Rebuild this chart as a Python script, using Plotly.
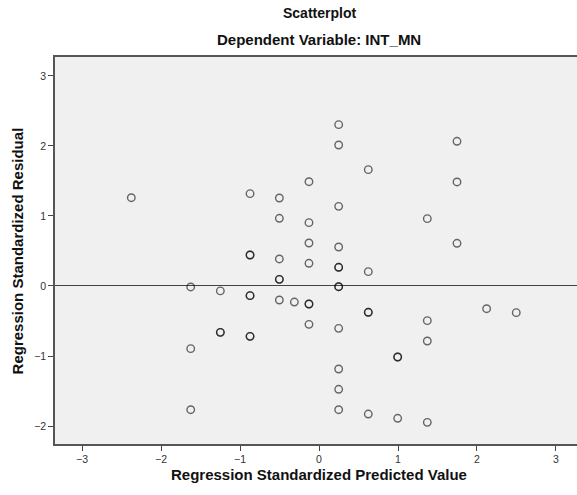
import plotly.graph_objects as go

# Regression residual scatter: standardized predicted value vs standardized residual
pred_levels = [-2.376, -1.624, -1.249, -0.873, -0.502, -0.312, -0.127,
               0.249, 0.624, 0.996, 1.371, 1.747, 2.122, 2.497]

# Residuals observed at each predicted-value level (repeated values are tied cases)
resid_by_level = [
    [1.261],
    [-0.014, -0.895, -1.767],
    [-0.070, -0.662, -0.662],
    [1.319, 0.443, 0.443, -0.138, -0.138, -0.719, -0.719],
    [1.257, 0.967, 0.386, 0.095, 0.095, -0.200],
    [-0.229],
    [1.490, 0.905, 0.614, 0.324, -0.257, -0.257, -0.548],
    [2.305, 2.014, 1.138, 0.557, 0.267, 0.267, -0.010, -0.010,
     -0.605, -1.186, -1.476, -1.767],
    [1.662, 0.205, -0.376, -0.376, -1.829],
    [-1.014, -1.014, -1.890],
    [0.962, -0.495, -0.786, -1.948],
    [2.067, 1.486, 0.610],
    [-0.324],
    [-0.381],
]

x_ticks = [-3, -2, -1, 0, 1, 2, 3]
y_ticks = [-2, -1, 0, 1, 2, 3]

pred = []
resid = []
for level, values in zip(pred_levels, resid_by_level):
    for v in values:
        pred.append(level)
        resid.append(v)

fig = go.Figure()
fig.add_trace(go.Scatter(
    x=pred, y=resid, mode="markers",
    marker=dict(symbol="circle-open", size=7.5, color="rgba(0,0,0,0.58)",
                line=dict(width=1.4)),
    hoverinfo="x+y", showlegend=False,
))

font_family = "Liberation Sans, Arial, sans-serif"
axis_common = dict(
    showgrid=False, showline=True, linecolor="#555555", linewidth=1.5,
    ticks="outside", ticklen=5, tickwidth=1, tickcolor="#444444",
    tickfont=dict(family=font_family, size=10.5, color="#333333"),
)

fig.update_layout(
    width=577, height=495,
    margin=dict(l=55, r=0, t=57, b=51),
    paper_bgcolor="white", plot_bgcolor="#F0F0F0",
    font=dict(family=font_family),
    xaxis=dict(range=[-3.342, 3.266], tickvals=x_ticks, mirror=True,
               zeroline=False, **axis_common),
    yaxis=dict(range=[-2.257, 3.271], tickvals=y_ticks, mirror=False,
               zeroline=True, zerolinecolor="#444444", zerolinewidth=1,
               **axis_common),
    annotations=[
        dict(text="<b>Scatterplot</b>", xref="x", yref="paper", x=0, y=1.114,
             showarrow=False, xanchor="center", yanchor="middle",
             font=dict(size=14, color="#111111")),
        dict(text="<b>Dependent Variable: INT_MN</b>", xref="x", yref="paper",
             x=0, y=1.044, showarrow=False, xanchor="center", yanchor="middle",
             font=dict(size=15, color="#111111")),
        dict(text="<b>Regression Standardized Predicted Value</b>", xref="x",
             yref="paper", x=0, y=-0.078, showarrow=False, xanchor="center",
             yanchor="middle", font=dict(size=15, color="#111111")),
        dict(text="<b>Regression Standardized Residual</b>", xref="paper",
             yref="paper", x=-0.071, y=0.5, showarrow=False, textangle=-90,
             xanchor="center", yanchor="middle",
             font=dict(size=15, color="#111111")),
    ],
)

fig.write_html("out.html")
